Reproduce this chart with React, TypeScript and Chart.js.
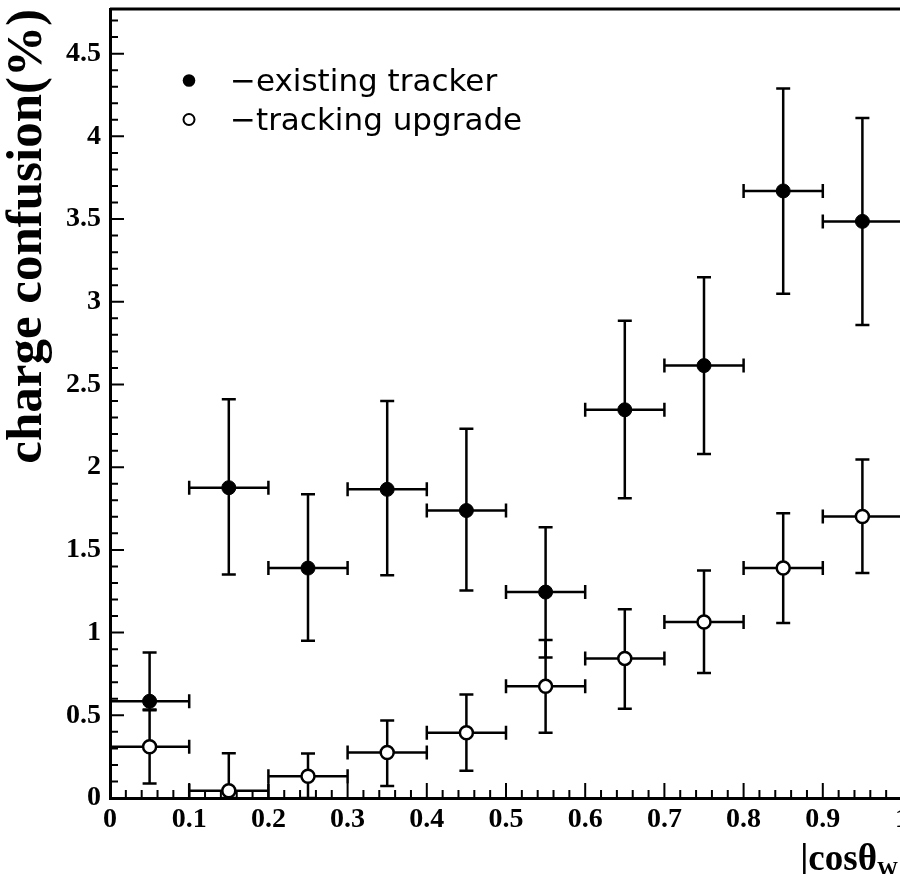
import React, { useEffect, useRef } from "react";
import { Chart, registerables } from "chart.js";

Chart.register(...registerables);

// ---- data ----
const binCenters = [0.05, 0.15, 0.25, 0.35, 0.45, 0.55, 0.65, 0.75, 0.85, 0.95];
const binLow = [0.0, 0.1, 0.2, 0.3, 0.4, 0.5, 0.6, 0.7, 0.8, 0.9];
const binHigh = [0.1, 0.2, 0.3, 0.4, 0.5, 0.6, 0.7, 0.8, 0.9, 1.0];

const existingTracker = [0.585, 1.876, 1.39, 1.866, 1.738, 1.245, 2.347, 2.614, 3.67, 3.486];
const existingLow = [0.535, 1.351, 0.95, 1.347, 1.255, 0.85, 1.812, 2.079, 3.049, 2.86];
const existingHigh = [0.88, 2.41, 1.836, 2.4, 2.233, 1.637, 2.885, 3.149, 4.29, 4.111];

const trackingUpgrade = [0.31, 0.044, 0.132, 0.275, 0.395, 0.675, 0.844, 1.064, 1.391, 1.702];
const upgradeLow = [0.088, 0.0, 0.0, 0.072, 0.164, 0.395, 0.539, 0.756, 1.058, 1.361];
const upgradeHigh = [0.53, 0.27, 0.269, 0.469, 0.625, 0.955, 1.141, 1.375, 1.722, 2.046];

const seriesLabels = ["\u2212existing tracker", "\u2212tracking upgrade"];
const yAxisTitle = "charge confusion(%)";

const X_MIN = 0;
const X_MAX = 1;
const Y_MIN = 0;
const Y_MAX = 4.77;

const SERIF = "'Liberation Serif', 'Times New Roman', serif";
const SANS = "'DejaVu Sans', sans-serif";

const seriesErrors = [
  { values: existingTracker, low: existingLow, high: existingHigh },
  { values: trackingUpgrade, low: upgradeLow, high: upgradeHigh },
];

const fmtTick = (v: any) => String(Math.round(Number(v) * 10) / 10);

const errorBarPlugin = {
  id: "errorBars",
  beforeDatasetsDraw(chart: any) {
    const { ctx, chartArea, scales } = chart;
    const xs = scales.x;
    const ys = scales.y;
    ctx.save();
    ctx.beginPath();
    ctx.rect(chartArea.left, chartArea.top, chartArea.right - chartArea.left, chartArea.bottom - chartArea.top);
    ctx.clip();
    ctx.strokeStyle = "#000";
    ctx.lineWidth = 2.5;
    ctx.lineCap = "butt";
    const cap = 7;
    seriesErrors.forEach((s) => {
      for (let i = 0; i < binCenters.length; i++) {
        const px = xs.getPixelForValue(binCenters[i]);
        const py = ys.getPixelForValue(s.values[i]);
        const xl = xs.getPixelForValue(binLow[i]);
        const xh = xs.getPixelForValue(binHigh[i]);
        const yl = ys.getPixelForValue(s.low[i]);
        const yh = ys.getPixelForValue(s.high[i]);
        ctx.beginPath();
        ctx.moveTo(xl, py);
        ctx.lineTo(xh, py);
        ctx.moveTo(xl, py - cap);
        ctx.lineTo(xl, py + cap);
        ctx.moveTo(xh, py - cap);
        ctx.lineTo(xh, py + cap);
        ctx.moveTo(px, yl);
        ctx.lineTo(px, yh);
        ctx.moveTo(px - cap, yl);
        ctx.lineTo(px + cap, yl);
        ctx.moveTo(px - cap, yh);
        ctx.lineTo(px + cap, yh);
        ctx.stroke();
      }
    });
    ctx.restore();
  },
};

const frameTicksPlugin = {
  id: "frameTicks",
  afterDatasetsDraw(chart: any) {
    const { ctx, chartArea, scales } = chart;
    const xs = scales.x;
    const ys = scales.y;
    ctx.save();
    ctx.strokeStyle = "#000";
    ctx.lineWidth = 2;
    ctx.beginPath();
    for (let k = 0; k <= 47; k++) {
      const py = ys.getPixelForValue(k / 10);
      const len = k % 5 === 0 ? 14 : 8;
      ctx.moveTo(chartArea.left, py);
      ctx.lineTo(chartArea.left + len, py);
    }
    for (let k = 0; k <= 50; k++) {
      const px = xs.getPixelForValue(k / 50);
      const len = k % 5 === 0 ? 15 : 8;
      ctx.moveTo(px, chartArea.bottom);
      ctx.lineTo(px, chartArea.bottom - len);
    }
    ctx.stroke();
    ctx.lineWidth = 3;
    ctx.beginPath();
    ctx.moveTo(chartArea.left, chartArea.top);
    ctx.lineTo(chartArea.right, chartArea.top);
    ctx.stroke();
    ctx.restore();
  },
};

const legendPlugin = {
  id: "innerLegend",
  afterDraw(chart: any) {
    const { ctx, chartArea } = chart;
    ctx.save();
    const mx = chartArea.left + 79;
    const rows = [chartArea.top + 71.5, chartArea.top + 110.5];
    chart.data.datasets.forEach((ds: any, i: number) => {
      const cy = rows[i];
      ctx.beginPath();
      ctx.arc(mx, cy, i === 0 ? 6.3 : 5.5, 0, Math.PI * 2);
      ctx.fillStyle = ds.backgroundColor;
      ctx.fill();
      if (i === 1) {
        ctx.lineWidth = 2;
        ctx.strokeStyle = "#000";
        ctx.stroke();
      }
      ctx.fillStyle = "#000";
      ctx.font = `31px ${SANS}`;
      ctx.textAlign = "left";
      ctx.textBaseline = "alphabetic";
      ctx.fillText(ds.label, chartArea.left + 120, cy + 10);
    });
    ctx.restore();
  },
};

const xTitlePlugin = {
  id: "xTitle",
  afterDraw(chart: any) {
    const { ctx, chartArea } = chart;
    ctx.save();
    ctx.fillStyle = "#000";
    ctx.textBaseline = "alphabetic";
    const baseY = chartArea.bottom + 72;
    const endX = chartArea.right - 25;
    ctx.font = `bold 37px ${SERIF}`;
    ctx.textAlign = "right";
    ctx.fillText("|cos\u03B8", endX, baseY);
    ctx.font = `bold 21px ${SERIF}`;
    ctx.textAlign = "left";
    ctx.fillText("W", endX, baseY + 6);
    ctx.font = `bold 37px ${SERIF}`;
    ctx.fillText("|", endX + 21, baseY);
    ctx.restore();
  },
};

export default function App() {
  const canvasRef = useRef<HTMLCanvasElement | null>(null);

  useEffect(() => {
    const canvas = canvasRef.current;
    if (!canvas) return;
    const tickFont = { family: SERIF, weight: "bold" as const, size: 28 };
    const chart = new Chart(canvas, {
      type: "scatter",
      data: {
        datasets: [
          {
            label: seriesLabels[0],
            data: binCenters.map((x, i) => ({ x, y: existingTracker[i] })),
            backgroundColor: "#000",
            borderColor: "#000",
            borderWidth: 1,
            pointRadius: 7,
            showLine: false,
          },
          {
            label: seriesLabels[1],
            data: binCenters.map((x, i) => ({ x, y: trackingUpgrade[i] })),
            backgroundColor: "#fff",
            borderColor: "#000",
            borderWidth: 2.5,
            pointRadius: 6.5,
            showLine: false,
          },
        ],
      },
      options: {
        animation: false,
        responsive: false,
        devicePixelRatio: 1,
        events: [],
        layout: { padding: { left: 0, top: 5, right: 18, bottom: 0 } },
        plugins: {
          legend: { display: false },
          tooltip: { enabled: false },
        },
        scales: {
          x: {
            type: "linear",
            position: "bottom",
            min: X_MIN,
            max: X_MAX,
            ticks: {
              stepSize: 0.1,
              color: "#000",
              font: tickFont,
              padding: 5,
              maxRotation: 0,
              autoSkip: false,
              includeBounds: false,
              callback: fmtTick,
            },
            grid: { display: true, drawOnChartArea: false, drawTicks: false },
            border: { display: true, color: "#000", width: 3 },
            afterFit(scale: any) {
              scale.height = 76;
              scale.paddingLeft = 0;
              scale.paddingRight = 0;
            },
          },
          y: {
            type: "linear",
            position: "left",
            min: Y_MIN,
            max: Y_MAX,
            ticks: {
              stepSize: 0.5,
              color: "#000",
              font: tickFont,
              padding: 9,
              autoSkip: false,
              includeBounds: false,
              callback: fmtTick,
            },
            grid: { display: true, drawOnChartArea: false, drawTicks: false },
            border: { display: true, color: "#000", width: 3 },
            title: {
              display: true,
              text: yAxisTitle,
              align: "end",
              color: "#000",
              font: { family: SERIF, weight: "bold", size: 51 },
              padding: { top: -3, bottom: 0 },
            },
            afterFit(scale: any) {
              scale.width = 110;
              scale.paddingTop = 0;
              scale.paddingBottom = 0;
            },
          },
        },
      },
      plugins: [errorBarPlugin, frameTicksPlugin, legendPlugin, xTitlePlugin],
    } as any);
    return () => chart.destroy();
  }, []);

  return (
    <div
      style={{
        position: "fixed",
        left: 0,
        top: 0,
        width: 900,
        height: 874,
        overflow: "hidden",
        background: "#fff",
      }}
    >
      <canvas ref={canvasRef} width={920} height={874} style={{ display: "block" }} />
    </div>
  );
}
